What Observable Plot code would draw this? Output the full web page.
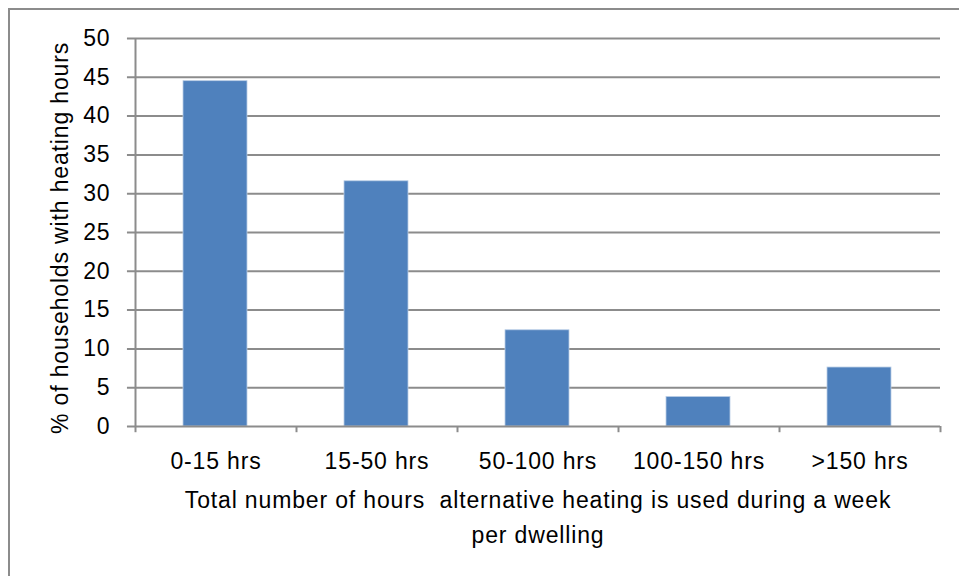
<!DOCTYPE html>
<html>
<head>
<meta charset="utf-8">
<script src="https://cdn.jsdelivr.net/npm/d3@7"></script>
<script src="https://cdn.jsdelivr.net/npm/@observablehq/plot@0.6"></script>
<style>
  html, body { margin: 0; padding: 0; background: #fff; }
  #chart { position: relative; width: 959px; height: 576px; overflow: hidden; }
  #frame { position: absolute; left: 8px; top: 8px; width: 1000px; height: 1000px;
           border-left: 2px solid #8c8c8c; border-top: 2px solid #8c8c8c; box-sizing: border-box; }
  #chart svg { position: absolute; left: 0; top: 0; }
</style>
</head>
<body>
<div id="chart"><div id="frame"></div></div>
<script>
// Share of households by weekly hours of alternative heating use
const categories = ["0-15 hrs", "15-50 hrs", "50-100 hrs", "100-150 hrs", ">150 hrs"];
const values = [44.5, 31.6, 12.4, 3.8, 7.6];
const yTicks = [0, 5, 10, 15, 20, 25, 30, 35, 40, 45, 50];
const yTitle = "% of households with heating hours";
const xTitleLines = ["Total number of hours  alternative heating is used during a week", "per dwelling"];

const rows = categories.map((c, i) => ({category: c, value: values[i], i}));
const boundaries = d3.range(categories.length + 1);

const font = "'Liberation Sans', Arial, sans-serif";
const grey = "#8c8c8c";

const chart = Plot.plot({
  width: 959,
  height: 576,
  marginLeft: 135,
  marginRight: 19,
  marginTop: 38,
  marginBottom: 150,
  style: {fontFamily: font, fontSize: "23px", letterSpacing: "0.85px", color: "#000", background: "transparent", overflow: "visible"},
  x: {type: "linear", domain: [0, categories.length], axis: null},
  y: {type: "linear", domain: [0, 50], axis: null},
  marks: [
    // horizontal gridlines with short outward ticks
    Plot.ruleY(yTicks.filter(d => d > 0), {y: d => d, x1: -0.05, x2: categories.length, stroke: grey, strokeWidth: 2}),
    // vertical axis line
    Plot.ruleX([0], {y1: 0, y2: 50, stroke: grey, strokeWidth: 2}),
    // bars
    Plot.rectY(rows, {x1: "i", x2: d => d.i + 1, y: "value", fill: "#4f81bd", insetLeft: 48, insetRight: 49,
                      stroke: "#b9cde5", strokeWidth: 0.8}),
    // baseline
    Plot.ruleY([0], {x1: -0.05, x2: categories.length, stroke: grey, strokeWidth: 2}),
    // category boundary ticks
    Plot.ruleX(boundaries, {x: d => d, y1: 0, y2: -0.8, stroke: grey, strokeWidth: 2}),
    // y tick labels
    Plot.text(yTicks, {x: 0, y: d => d, text: d => String(d), textAnchor: "end", dx: -25, fontSize: 23}),
    // category labels
    Plot.text(rows, {x: d => d.i + 0.5, y: 0, text: "category", dy: 35, fontSize: 23}),
    // x-axis title
    Plot.text([xTitleLines[0]], {x: categories.length / 2, y: 0, text: d => d, dy: 74, fontSize: 23}),
    Plot.text([xTitleLines[1]], {x: categories.length / 2, y: 0, text: d => d, dy: 109, fontSize: 23}),
    // y-axis title
    Plot.text([yTitle], {x: 0, y: 24.3, text: d => d, rotate: -90, dx: -75, fontSize: 23})
  ]
});

document.getElementById("chart").appendChild(chart);
</script>
</body>
</html>
